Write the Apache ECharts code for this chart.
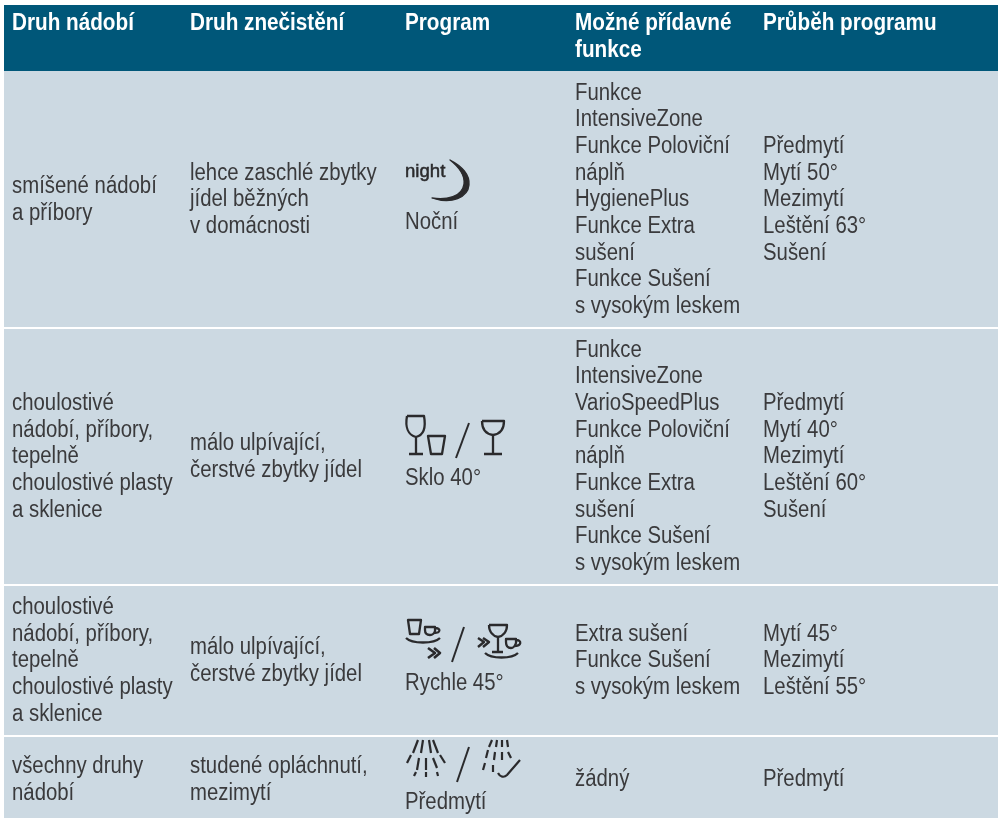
<!DOCTYPE html>
<html><head><meta charset="utf-8">
<style>html,body{margin:0;padding:0;background:#fff}#c{width:998px;height:818px}</style>
<script src="https://cdn.jsdelivr.net/npm/echarts@6/dist/echarts.min.js"></script>
</head><body><div id="c"></div>
<script>
const headers = [["Druh nádobí"],["Druh znečistění"],["Program"],["Možné přídavné","funkce"],["Průběh programu"]];
const dishes = [["smíšené nádobí","a příbory"],["choulostivé","nádobí, příbory,","tepelně","choulostivé plasty","a sklenice"],["choulostivé","nádobí, příbory,","tepelně","choulostivé plasty","a sklenice"],["všechny druhy","nádobí"]];
const soils = [["lehce zaschlé zbytky","jídel běžných","v domácnosti"],["málo ulpívající,","čerstvé zbytky jídel"],["málo ulpívající,","čerstvé zbytky jídel"],["studené opláchnutí,","mezimytí"]];
const programs = ["Noční","Sklo 40°","Rychle 45°","Předmytí"];
const options = [["Funkce","IntensiveZone","Funkce Poloviční","náplň","HygienePlus","Funkce Extra","sušení","Funkce Sušení","s vysokým leskem"],["Funkce","IntensiveZone","VarioSpeedPlus","Funkce Poloviční","náplň","Funkce Extra","sušení","Funkce Sušení","s vysokým leskem"],["Extra sušení","Funkce Sušení","s vysokým leskem"],["žádný"]];
const phases = [["Předmytí","Mytí 50°","Mezimytí","Leštění 63°","Sušení"],["Předmytí","Mytí 40°","Mezimytí","Leštění 60°","Sušení"],["Mytí 45°","Mezimytí","Leštění 55°"],["Předmytí"]];

echarts.graphic.registerShape('svgp', echarts.graphic.extendShape({
  shape:{d:''},
  buildPath(ctx,s){
    const t=s.d.match(/[MLCZ]|-?[\d.]+/g)||[];let i=0;
    while(i<t.length){const c=t[i++];
      if(c==='M'){ctx.moveTo(+t[i],+t[i+1]);i+=2;}
      else if(c==='L'){ctx.lineTo(+t[i],+t[i+1]);i+=2;}
      else if(c==='C'){ctx.bezierCurveTo(+t[i],+t[i+1],+t[i+2],+t[i+3],+t[i+4],+t[i+5]);i+=6;}
      else if(c==='Z'){ctx.closePath();}
    }
  }
}));

const colX=[12,190,405,575,763];
const rowTop=[71,329,586,737], rowBot=[327,584,735,818], lh=26.65;
const ink='#3a3a3c';
const FF='"Liberation Sans",sans-serif';
const els=[];
function txt(s,x,cy,o){o=o||{};els.push({type:'text',x:x,y:cy,scaleX:o.sx||0.885,z:5,style:{text:s,fill:o.fill||ink,font:(o.w||'normal')+' '+(o.size||23)+'px '+FF,verticalAlign:'middle',align:'left',stroke:o.stroke||null,lineWidth:o.stroke?0.5:0}});}
function block(lines,x,cy){const n=lines.length;lines.forEach((l,i)=>txt(l,x,cy+(i-(n-1)/2)*lh));}
els.push({type:'rect',shape:{x:4,y:5,width:994,height:66},style:{fill:'#005779'}});
rowTop.forEach((t,i)=>els.push({type:'rect',shape:{x:4,y:t,width:994,height:rowBot[i]-t},style:{fill:'#ccd9e2'}}));
headers.forEach((h,c)=>h.forEach((l,i)=>txt(l,colX[c],24+i*26.6,{fill:'#fff',w:'bold',size:23,sx:0.9})));
const cys=[200,457,661,780];
cys.forEach((cy,r)=>{block(dishes[r],colX[0],cy);block(soils[r],colX[1],cy);block(options[r],colX[3],cy);block(phases[r],colX[4],cy);});
const progY=[223,479,684,803];
programs.forEach((p,i)=>txt(p,colX[2],progY[i]));
const S='#2a2a2c';
function path(d,w){els.push({type:'svgp',z:5,shape:{d:d},style:{fill:null,stroke:S,lineWidth:w||2.3,lineCap:'butt',lineJoin:'round'}});}
// night
txt('night',405,172,{size:19,fill:S,sx:0.98,stroke:S});
els.push({type:'svgp',z:5,shape:{d:'M450 160 C462 166 470 175 469 185 C468 197 452 205 432 198 C447 200 462 197 464 184 C465 176 459 167 450 160 Z'},style:{fill:S,stroke:S,lineWidth:1.3,lineJoin:'round'}});
// glass
path('M407 416 L424 416 C426 427 424 435 416 437 C408 435 405 427 407 416 M416 437 L416 454 M409 454 L423 454');
path('M428 436 L445 436 L442 454 L431 454 Z');
path('M456 458 L469 423',2);
path('M482 421 L504 421 C504 429 500 434 493 435 C486 434 482 429 482 421 M493 435 L493 454 M484 454 L502 454');
// rychle
path('M408 620 L421 620 L419 634 L410 634 Z M406 638 C412 644 434 644 440 638');
path('M425 627 L435 627 L435 631 C434 634 432 635 430 635 C427 635 425 633 425 630 Z M435 628 C441 628 441 633 434 633');
path('M428 648 L435 653 L428 658 M434 648 L440 653 L434 658',2.6);
path('M452 662 L464 627',2);
path('M478 638 L484 642 L478 647 M483 638 L489 642 L483 647',2.4);
path('M489 625 L507 625 C507 632 503 636 498 637 C493 636 489 632 489 625 M498 637 L498 652 M492 652 L503 652 M506 639 L516 639 L516 643 C515 646 513 648 511 648 C508 648 506 646 506 642 Z M516 640 C522 640 522 646 514 646 M485 653 C491 659 512 659 518 653');
// predmyti
['M418 740 L413 753','M423 740 L421 753','M429 740 L431 753','M433 740 L438 753','M411 755 L407 763','M419 758 L417 770','M426 758 L426 770','M433 758 L437 768','M440 755 L445 763','M416 772 L414 776','M426 772 L426 777','M437 772 L438 776'].forEach(d=>path(d,2.2));
path('M457 782 L469 747',2);
['M492 740 L489 747','M497 740 L496 747','M502 740 L502 747','M507 740 L508 747','M488 750 L486 758','M495 752 L494 760','M502 752 L502 760','M508 752 L511 758','M485 763 L483 770','M493 765 L493 772','M520 760 L507 775 C504 778 500 777 498 773'].forEach(d=>path(d,2.2));

const chart=echarts.init(document.getElementById('c'),null,{renderer:'canvas'});
chart.setOption({animation:false,graphic:{elements:els}});
</script></body></html>
